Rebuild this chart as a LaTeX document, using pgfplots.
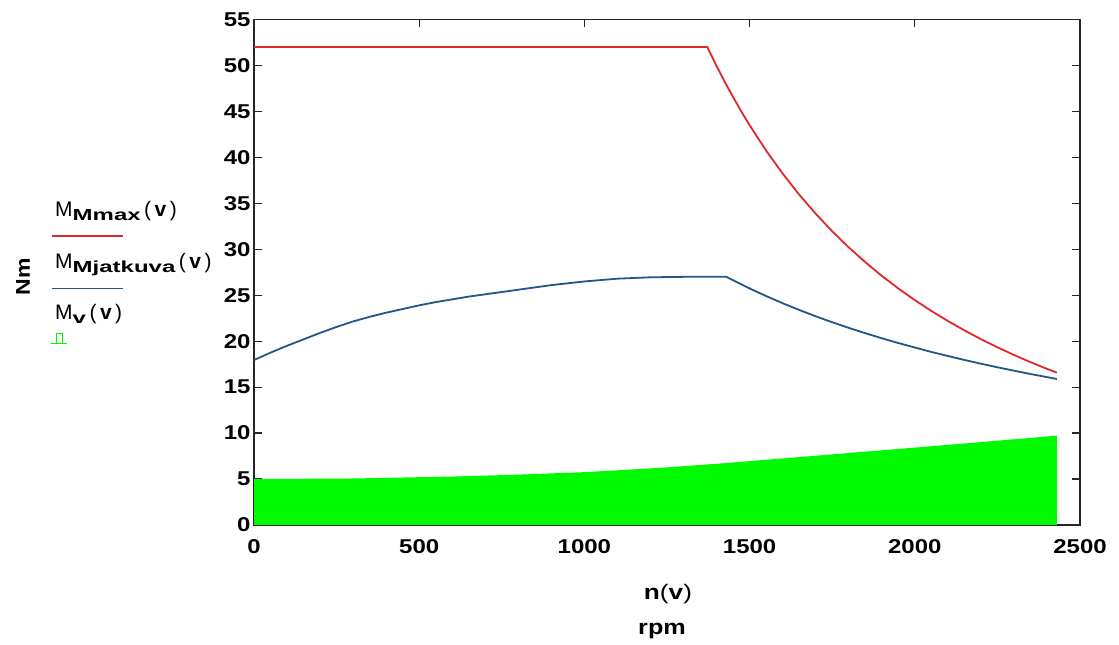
\documentclass[border=0pt]{standalone}
\usepackage{fontspec}
\setmainfont{Liberation Sans}
\usepackage{pgfplots}
\pgfplotsset{compat=1.18}
\definecolor{cred}{RGB}{225,40,40}
\definecolor{cblue}{RGB}{35,85,135}
\definecolor{cgreen}{RGB}{0,250,0}
\newcommand\legendM[1]{{\fontsize{21}{24}\selectfont M}\raisebox{-4pt}{\scalebox{1.5}[1]{\fontsize{16}{18}\selectfont\bfseries #1}}{\fontsize{21}{24}\selectfont\,(\,\textbf{v}\,)}}
\begin{document}
\begin{tikzpicture}
\path[use as bounding box] (0,0) rectangle (1119pt,645pt);
\begin{axis}[
  at={(254pt,120pt)}, anchor=south west,
  scale only axis, width=826pt, height=505.5pt,
  xmin=0, xmax=2500, ymin=0, ymax=55,
  xtick={0,500,...,2500}, ytick={0,5,...,55},
  xticklabel pos=left, yticklabel pos=left, tick pos=both,
  major tick length=8pt,
  tick style={black!85, line width=1.2pt},
  axis line style={black!85, line width=1.3pt},
  ticklabel style={font=\fontsize{20}{24}\selectfont\bfseries},
  xticklabel style={yshift=-11pt},
  xticklabel={\scalebox{1.2}[1]{\pgfmathprintnumber{\tick}}},
  yticklabel={\scalebox{1.2}[1]{\pgfmathprintnumber{\tick}}},
  /pgf/number format/assume math mode=true,
  /pgf/number format/1000 sep={},
  scaled ticks=false,
]
\addplot[draw=none, fill=cgreen] coordinates {
 (0,5.0)(300,5.06)(600,5.27)(800,5.48)(1000,5.75)(1100,5.95)(1230,6.22)(1300,6.4)(1400,6.66)
 (1600,7.24)(1800,7.83)(2000,8.42)(2200,9.02)(2430,9.72)} \closedcycle;
\addplot[cblue, line width=1.8pt, mark=none] coordinates {
 (0,17.95)(50,18.75)(100,19.5)(150,20.2)(200,20.9)(250,21.55)(300,22.15)(350,22.65)
 (400,23.1)(450,23.5)(500,23.9)(550,24.25)(600,24.55)(650,24.85)(700,25.1)(750,25.35)
 (800,25.6)(850,25.85)(900,26.1)(1000,26.5)(1100,26.8)(1200,26.95)(1300,27.0)(1430,27.0)
 (1450,26.63)(1500,25.74)(1550,24.91)(1600,24.13)(1650,23.4)(1700,22.71)(1750,22.06)
 (1800,21.45)(1850,20.87)(1900,20.32)(1950,19.8)(2000,19.31)(2050,18.83)(2100,18.39)
 (2150,17.96)(2200,17.55)(2250,17.16)(2300,16.79)(2350,16.43)(2400,16.09)(2430,15.89)};
\addplot[cred, line width=1.8pt, mark=none] coordinates {
 (0,52)(1372,52)(1400,49.94)(1425,48.20)(1450,46.56)(1475,44.99)(1500,43.50)(1550,40.74)
 (1600,38.24)(1650,35.95)(1700,33.87)(1750,31.96)(1800,30.21)(1850,28.60)(1900,27.11)
 (1950,25.74)(2000,24.47)(2050,23.29)(2100,22.20)(2150,21.18)(2200,20.22)(2250,19.34)
 (2300,18.50)(2350,17.72)(2400,16.99)(2430,16.58)};
\end{axis}
\node[rotate=90, font=\fontsize{20}{24}\selectfont\bfseries] at (23pt,368pt) {\scalebox{1.15}[1]{Nm}};
\node[anchor=base, font=\fontsize{21}{24}\selectfont] at (668pt,45pt) {\scalebox{1.25}[1]{\textbf{n}(\textbf{v})}};
\node[anchor=base, font=\fontsize{21}{24}\selectfont\bfseries] at (662pt,10pt) {\scalebox{1.2}[1]{rpm}};
\node[anchor=base west, inner sep=0pt] at (55pt,428pt) {\legendM{Mmax}};
\draw[cred, line width=1.5pt] (52pt,409pt) -- (123pt,409pt);
\node[anchor=base west, inner sep=0pt] at (55pt,376pt) {\legendM{Mjatkuva}};
\draw[cblue, line width=1.5pt] (52pt,356.5pt) -- (123pt,356.5pt);
\node[anchor=base west, inner sep=0pt] at (55pt,325pt) {\legendM{v}};
\draw[cgreen, line width=1pt] (51pt,301pt) -- (67pt,301pt);
\draw[cgreen, line width=1pt] (56pt,301pt) rectangle (62pt,311pt);
\end{tikzpicture}
\end{document}
